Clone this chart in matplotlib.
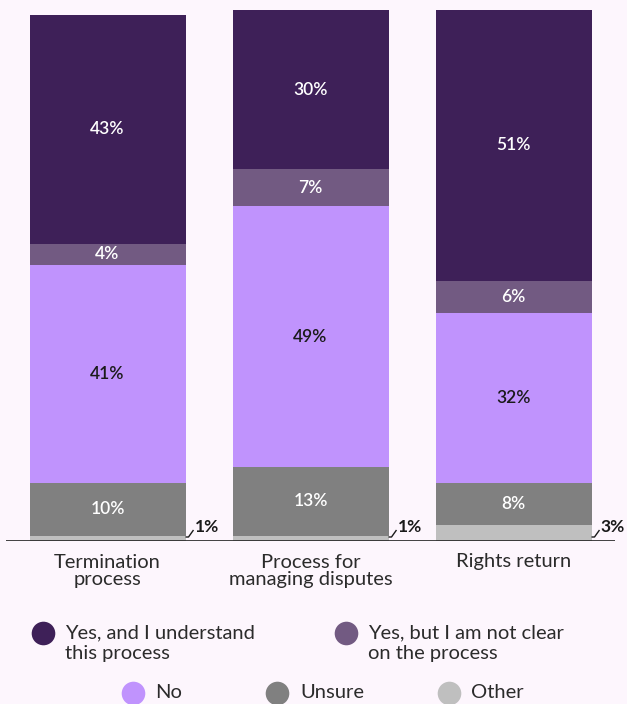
import matplotlib.pyplot as plt
from matplotlib.lines import Line2D

plt.rcParams['font.family'] = ['Lato', 'DejaVu Sans']

categories = ['Termination\nprocess', 'Process for\nmanaging disputes', 'Rights return']
series = ['Yes, and I understand\nthis process', 'Yes, but I am not clear\non the process',
          'No', 'Unsure', 'Other']
yes_clear = [43, 30, 51]
yes_unclear = [4, 7, 6]
no = [41, 49, 32]
unsure = [10, 13, 8]
other = [1, 1, 3]

colors = ['#3E2058', '#725A82', '#C093FD', '#808080', '#BFBFBF']
label_colors = ['white', 'white', '#1a1a1a', 'white', None]
bg = '#FDF6FD'

W, H = 627, 704
fig = plt.figure(figsize=(W / 100, H / 100), dpi=100, facecolor=bg)
# axes spans the baseline rule; y=0 sits on the rule
ax = fig.add_axes([6 / W, (H - 541) / H, 609 / W, 541 / H])
ax.set_facecolor(bg)

x_px = 203.0          # pixels per category step
y_px = 5.31           # pixels per percentage point
ax.set_xlim(-0.5, 2.5)
ax.set_ylim(0, 541 / y_px)
bar_w = 156 / x_px

stack = [other, unsure, no, yes_unclear, yes_clear]
stack_colors = colors[::-1]
stack_text = label_colors[::-1]
xs = list(range(len(categories)))
bottoms = [0] * len(categories)
for vals, col, tcol in zip(stack, stack_colors, stack_text):
    ax.bar(xs, vals, bar_w, bottom=bottoms, color=col, linewidth=0)
    if tcol is not None:
        for x, b, v in zip(xs, bottoms, vals):
            ax.text(x, b + v / 2, f'{v}%', ha='center', va='center',
                    color=tcol, fontsize=12.5, fontweight='semibold')
    bottoms = [b + v for b, v in zip(bottoms, vals)]

# small hooked callouts for the "Other" slice
for x, v in zip(xs, other):
    xr = x + bar_w / 2
    y0 = 4 / y_px
    ax.plot([xr, xr + 3 / x_px, xr + 8 / x_px], [y0, y0, y0 + 7 / y_px],
            color='#1a1a1a', lw=1.0, clip_on=False, solid_capstyle='butt')
    ax.text(xr + 9 / x_px, y0 + 5 / y_px, f'{v}%', ha='left', va='baseline',
            color='#1a1a1a', fontsize=12.5, fontweight='bold')

ax.axhline(0, color='#222222', lw=1.2)
for s in ax.spines.values():
    s.set_visible(False)
ax.set_yticks([])
ax.set_xticks(xs)
ax.set_xticklabels(categories, fontsize=14.5, color='#2b2b2b', linespacing=1.05)
ax.tick_params(axis='x', length=0, pad=9)


def fig_xy(px, py):
    return px / W, 1 - py / H


legend_pos = [((43, 643), (65, 643)), ((346, 643), (368, 643)),
              ((133, 693), (155, 693)), ((277, 693), (300, 693)),
              ((449, 693), (471, 693))]
for name, col, (mpos, tpos) in zip(series, colors, legend_pos):
    mx, my = fig_xy(*mpos)
    if '\n' in name:
        my = 1 - 633 / H
    fig.add_artist(Line2D([mx], [my], marker='o', markersize=17, color=col,
                          markeredgewidth=0, transform=fig.transFigure))
    tx, ty = fig_xy(*tpos)
    fig.text(tx, ty, name, ha='left', va='center', fontsize=14.5,
             color='#2b2b2b', linespacing=1.25)

fig.savefig('out.png', dpi=100, facecolor=bg)
